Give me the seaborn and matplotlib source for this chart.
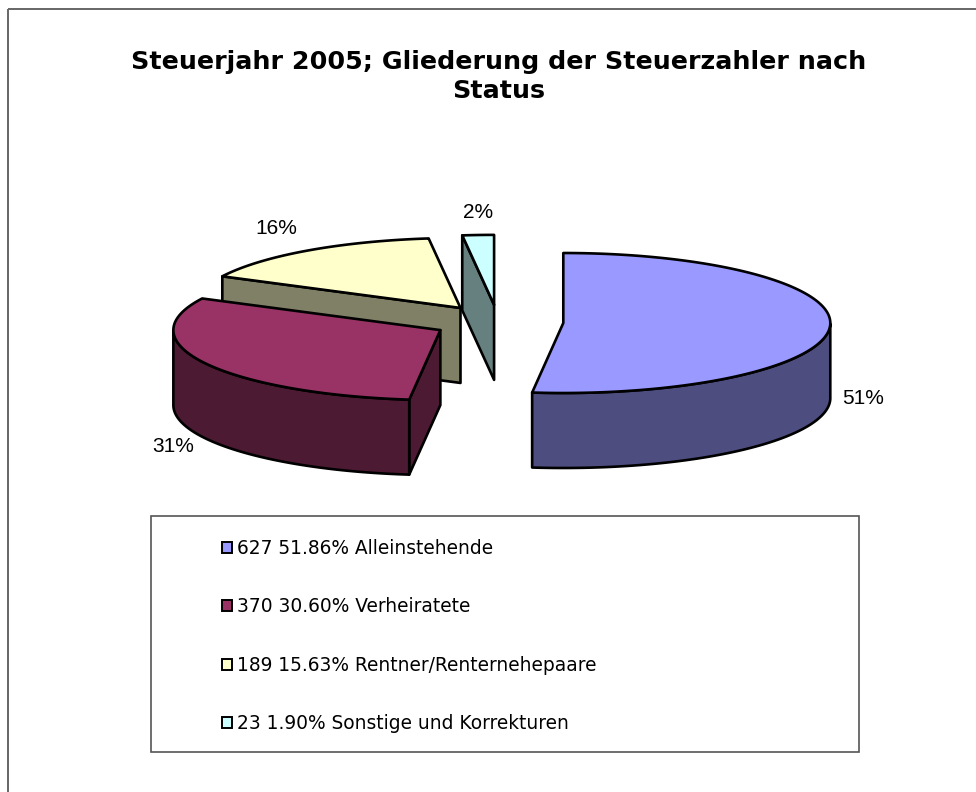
import numpy as np
import matplotlib
matplotlib.use("Agg")
import matplotlib.pyplot as plt
from matplotlib.patches import Polygon, Rectangle, Patch
import matplotlib.colors as mcolors
import seaborn as sns

# ---------------- data ----------------
categories = ["Alleinstehende", "Verheiratete", "Rentner/Renternehepaare",
              "Sonstige und Korrekturen"]
counts = [627, 370, 189, 23]
shares = ["51.86%", "30.60%", "15.63%", "1.90%"]
pie_labels = ["51%", "31%", "16%", "2%"]
title_lines = ["Steuerjahr 2005; Gliederung der Steuerzahler nach", "Status"]

# ---------------- style ----------------
sns.set_theme(style="white")
plt.rcParams["font.family"] = ["DejaVu Sans"]
plt.rcParams["text.color"] = "black"
top_colors = sns.color_palette(["#9999FF", "#993366", "#FFFFCC", "#CCFFFF"])
side_colors = [tuple(np.array(mcolors.to_rgb(c)) * 0.5) for c in top_colors]

W, H = 976, 792
fig = plt.figure(figsize=(W / 100, H / 100), dpi=100)
ax = fig.add_axes([0, 0, 1, 1])
ax.set_xlim(0, W)
ax.set_ylim(H, 0)
ax.axis("off")

# outer chart border (right/bottom lie outside the image)
ax.add_patch(Rectangle((8, 9), 2000, 2000, fill=False, edgecolor="#666666", lw=1.4))

# ---------------- 3D exploded pie geometry ----------------
CX, CY = 498.0, 322.0
RX, RY = 267.0, 70.0
DEPTH = 75.0
EXPLODE = 0.245
LW = 1.9

total = float(sum(counts))
fracs = np.array(counts) / total
cum = np.concatenate([[0], np.cumsum(fracs)])
starts = 90 - cum[:-1] * 360   # a0
ends = 90 - cum[1:] * 360      # a1

slices = []
for i in range(len(counts)):
    a0, a1 = starts[i], ends[i]
    m = np.radians((a0 + a1) / 2)
    ox = CX + EXPLODE * RX * np.cos(m)
    oy = CY - EXPLODE * RY * np.sin(m)
    slices.append((oy, i, a0, a1, ox))

for oy, i, a0, a1, ox in sorted(slices):
    t = np.radians(np.linspace(a1, a0, 300))
    ex = ox + RX * np.cos(t)
    ey = oy - RY * np.sin(t)
    # radial walls
    for ang, vis in ((a0, np.cos(np.radians(a0)) < -1e-6),
                     (a1, np.cos(np.radians(a1)) > 1e-6)):
        if vis:
            px = ox + RX * np.cos(np.radians(ang))
            py = oy - RY * np.sin(np.radians(ang))
            wall = [(ox, oy), (px, py), (px, py + DEPTH), (ox, oy + DEPTH)]
            ax.add_patch(Polygon(wall, closed=True, facecolor=side_colors[i],
                                 edgecolor="black", lw=LW, joinstyle="round"))
    # outer rim (front half only)
    mask = np.sin(t) < -1e-9
    if mask.any():
        idx = np.where(mask)[0]
        runs = np.split(idx, np.where(np.diff(idx) > 1)[0] + 1)
        for r in runs:
            rx_, ry_ = ex[r], ey[r]
            pts = list(zip(rx_, ry_)) + list(zip(rx_[::-1], ry_[::-1] + DEPTH))
            ax.add_patch(Polygon(pts, closed=True, facecolor=side_colors[i],
                                 edgecolor="black", lw=LW, joinstyle="round"))
    # top face
    pts = [(ox, oy)] + list(zip(ex, ey))
    ax.add_patch(Polygon(pts, closed=True, facecolor=top_colors[i],
                         edgecolor="black", lw=LW, joinstyle="round"))

# percentage labels (text placement)
label_pos = [(863, 399), (173, 446), (276, 229), (478, 212)]
for (lx, ly), lab in zip(label_pos, pie_labels):
    ax.text(lx, ly, lab, ha="center", va="center", fontsize=15,
            family=["Liberation Sans", "DejaVu Sans"], color="black")

# title
for y, line in zip((62, 91), title_lines):
    ax.text(499, y, line, ha="center", va="center", fontsize=18.3,
            fontweight="bold", color="black")

# legend
ax.add_patch(Rectangle((151, 516), 708, 236, fill=False, edgecolor="#555555", lw=1.2))
handles = [Patch(facecolor=top_colors[i], edgecolor="black", lw=1.4)
           for i in range(len(counts))]
labels = [f"{counts[i]} {shares[i]} {categories[i]}" for i in range(len(counts))]
ax.legend(handles, labels, loc="upper left", bbox_to_anchor=(222, 539),
          bbox_transform=ax.transData, frameon=False, fontsize=13.4,
          labelcolor="black",
          handlelength=0.55, handleheight=0.55, handletextpad=0.25,
          labelspacing=2.12, borderpad=0, borderaxespad=0)

fig.savefig("out.png", dpi=100, facecolor="white")
